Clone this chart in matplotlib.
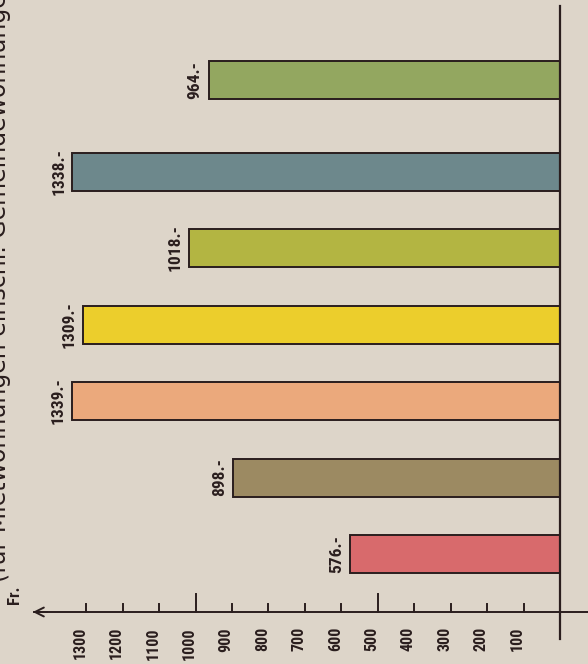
import matplotlib
matplotlib.use("Agg")
import matplotlib.pyplot as plt
from matplotlib.font_manager import fontManager

# ---- data ----
values = [576, 898, 1339, 1309, 1018, 1338, 964]
value_labels = ["576.-", "898.-", "1339.-", "1309.-", "1018.-", "1338.-", "964.-"]
ticks = [100, 200, 300, 400, 500, 600, 700, 800, 900, 1000, 1100, 1200, 1300]
tick_labels = [str(t) for t in ticks]
long_ticks = [500, 1000]
title = "(für Mietwohnungen einschl. Gemeindewohnungen)"
unit_label = "Fr."

# ---- style / layout ----
colors = ["#d86a6c", "#9c8a62", "#eba97c", "#ecce2c", "#b3b542", "#6d888c", "#93a760"]
positions = [0, 1, 2, 3, 4, 5, 6.2]
bg = "#ddd5c9"
ink = "#2a1e1e"

names = {f.name for f in fontManager.ttflist}
narrow = None
for cand in ["Liberation Sans Narrow", "Roboto Condensed", "Open Sans Condensed", "DejaVu Sans"]:
    if cand in names:
        narrow = cand
        break
fam = [narrow, "DejaVu Sans"]
num_kw = dict(family=fam, fontstretch="condensed", color=ink, fontweight="bold")

W, H = 588, 664
fig = plt.figure(figsize=(W / 100, H / 100), dpi=100, facecolor=bg)
ax = fig.add_axes([0, 0, 1, 1])
ax.set_facecolor(bg)

# pixel mapping: x px = 560 - v*0.3645 ; y px = 554 - k*76.5
sx = 0.3645
x0 = 560
ax.set_xlim(x0 / sx, -(W - x0) / sx)
uy = 76.5
y0 = 554
ax.set_ylim(-(H - y0) / uy, y0 / uy)

ax.barh(positions, values, height=38 / uy, color=colors, edgecolor=ink, linewidth=1.4, zorder=3)

for p, v, lab in zip(positions, values, value_labels):
    ax.text(v + 6 / sx, p, lab, rotation=90, ha="right", va="center",
            fontsize=12.5, **num_kw)

# baseline
ax.plot([0, 0], [y0 / uy - 6 / uy, -(639 - y0) / uy], color=ink, lw=1.6, zorder=4)

# value axis
ya = -(612 - y0) / uy
ax.plot([x0 / sx - 34 / sx, -(W - x0) / sx], [ya, ya], color=ink, lw=1.4, zorder=4)
ax.annotate("", xy=(x0 / sx - 30 / sx, ya), xytext=(x0 / sx - 50 / sx, ya),
            arrowprops=dict(arrowstyle="->", color=ink, lw=1.4, mutation_scale=16))
for t, tl in zip(ticks, tick_labels):
    L = 18 if t in long_ticks else 8
    ax.plot([t, t], [ya, ya + L / uy], color=ink, lw=1.4, zorder=4)
    ax.text(t + 6 / sx, ya - 15 / uy, tl, rotation=90, ha="center", va="top",
            fontsize=11.5, **num_kw)

ax.text(x0 / sx - 15 / sx, ya + 8 / uy, unit_label, rotation=90, ha="center", va="bottom",
        fontsize=12, **num_kw)

ax.text(x0 / sx + 1 / sx, ya + 30 / uy, title, rotation=90, ha="center", va="bottom",
        fontsize=17, family="DejaVu Sans", color=ink, clip_on=False)

ax.axis("off")
fig.savefig("out.png", dpi=100, facecolor=bg)
